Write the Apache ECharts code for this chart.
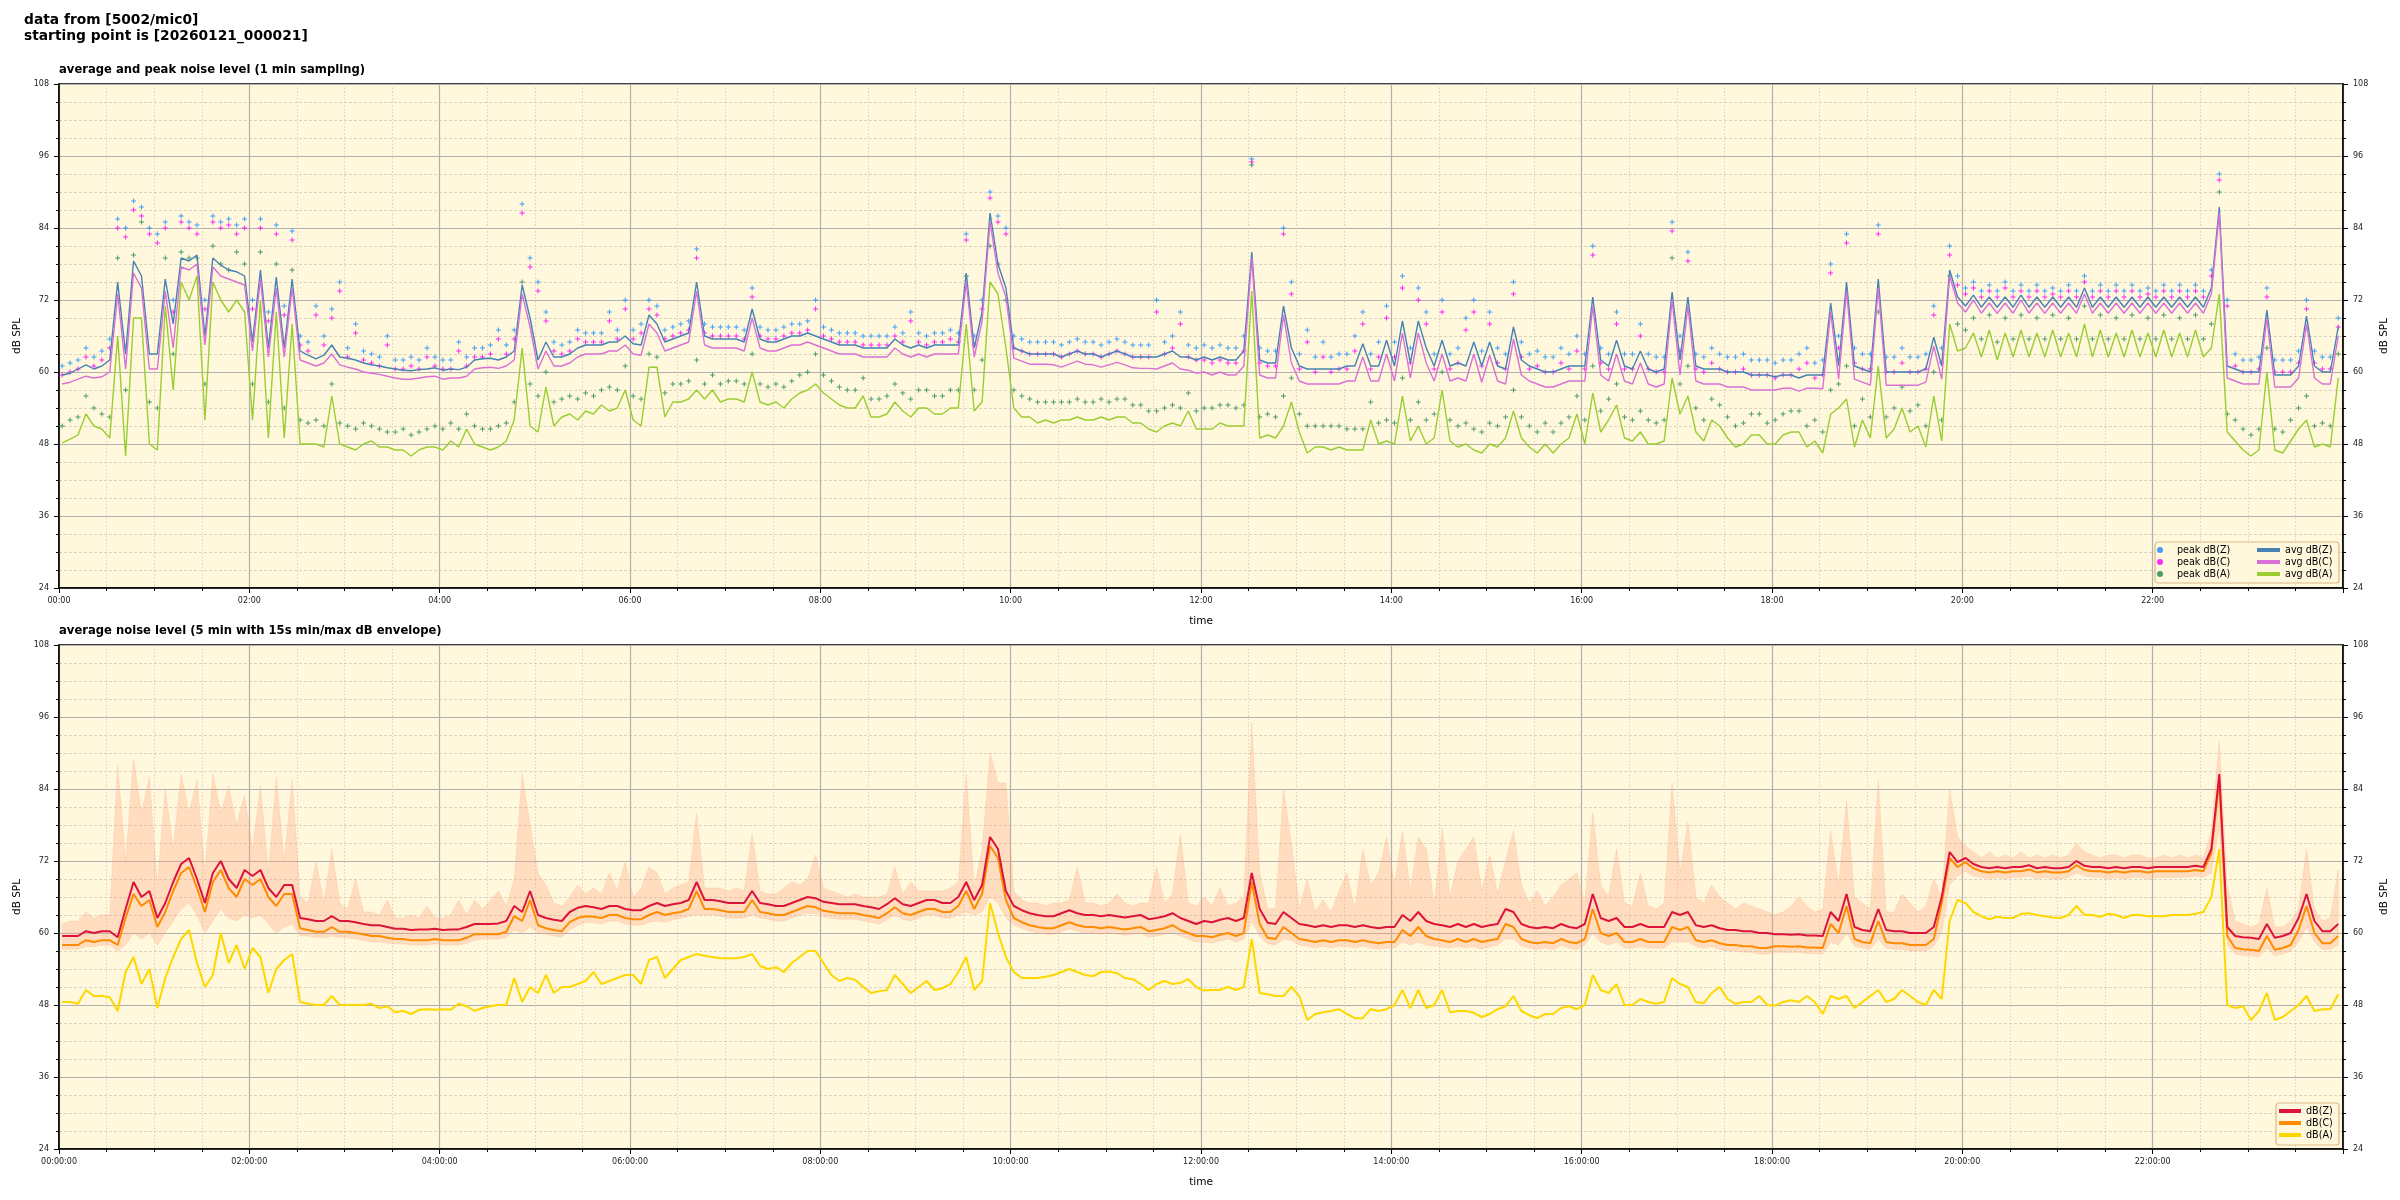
<!DOCTYPE html>
<html><head><meta charset="utf-8">
<script src="https://cdn.jsdelivr.net/npm/echarts/dist/echarts.min.js"></script>
<style>html,body{margin:0;padding:0;background:#fff}#c{width:2400px;height:1200px}</style>
</head><body><div id="c"></div>
<script>
// ---- time base: 5-minute steps (minutes after 00:00) ----
const STEP_MIN = 5;
const START_OFFSET = 2;

// ---- top panel: 1-min averages (read every 5 min) ----
const avgZ = [
[59.5,59.8,60.5,61.2,60.5,61,62,75,63,78.5,76,63],
[63,75.5,68,79,78.5,79.5,66,79,77.8,77,76.7,76],
[65,77,64,75.8,64,75.5,63.5,62.8,62.2,62.8,64.5,62.5],
[62.3,62,61.5,61.2,61,60.7,60.5,60.3,60.2,60.4,60.5,60.7],
[60.3,60.5,60.4,60.8,62,62.2,62.3,62,62.5,63.5,74.5,69],
[62,65,62.5,62.5,63,64,64.5,64.5,64.5,65,65,66],
[64.7,64.5,69.5,68,65,65.5,66,66.5,75,66,65.5,65.5],
[65.5,65.5,65,70.5,65.5,65,65,65.5,66,66,66.5,66],
[65.5,65,64.5,64.5,64.5,64,64,64,64,65.5,64.5,64],
[64.5,64,64.5,64.5,64.5,64.5,76.5,64,70,86.5,78,74],
[64,63.5,63,63,63,63,62.5,63,63.5,63,63,62.5],
[63,63.5,63,62.5,62.5,62.5,62.5,63,63.5,62.5,62.5,62],
[62.5,62,62.5,62,62,63.5,80,62,61.5,61.5,71,64],
[61,60.5,60.5,60.5,60.5,60.5,61,61,64.7,61,61,65.3],
[61,68.5,61.5,68.5,64,61,65.3,61,61.5,61,65,61],
[65,61,60.5,67.5,62,61,60.5,60,60,60.5,61,61],
[61,72.5,62,61,65.3,61,60.5,63.5,60.5,60,60.5,73.3],
[62,72.5,61,60.5,60.5,60.5,60,60,60,59.5,59.5,59.5],
[59.2,59.5,59.5,59,59.5,59.5,59.5,71.5,61,75,61,60.5],
[60,75.5,60,60,60,60,60,60.5,65.8,61,77,72.5],
[71,72.8,70.8,72.5,70.8,72.5,70.8,72.8,70.8,72.5,70.8,72.5],
[70.8,72.5,70.8,74,70.8,72.5,70.8,72.5,70.8,72.5,70.8,72.5],
[70.8,72.5,70.8,72.5,70.8,72.5,70.8,74,87.5,61,60.5,60],
[60,60,70.3,59.5,59.5,59.5,61,69.3,61,60,60,67.5]
].flat();

const avgC = [
[58,58.3,58.8,59.3,59,59.2,60,73,60.5,76.5,74,60.5],
[60.5,73.5,64,77.5,77,78,64.5,77.5,76,75.5,75,74.5],
[63.5,75.5,62.5,74,62.5,74,62,61.5,61,61.5,63,61.2],
[60.8,60.5,60,59.8,59.6,59.3,59,58.8,58.8,59,59.2,59.3],
[58.8,59,59,59.3,60.5,60.7,60.8,60.6,61,62,73,67.5],
[60.5,63.5,61,61,61.5,62.5,63,63,63,63.5,63.5,64.5],
[63,62.8,68,66.5,63.5,64,64.5,65,73.5,64.5,64,64],
[64,64,63.5,69,64,63.5,63.5,64,64.5,64.5,65,64.5],
[64,63.5,63,63,63,62.5,62.5,62.5,62.5,64,63,62.5],
[63,62.5,63,63,63,63,75,62.5,68.5,85,76.5,72.5],
[62.3,61.8,61.3,61.3,61.3,61.2,60.8,61.3,61.8,61.3,61.2,60.8],
[61.2,61.6,61.2,60.7,60.6,60.6,60.5,61,61.5,60.5,60.3,59.8],
[60,59.5,60,59.5,59.5,61,79,59.5,59,59,69.5,61.5],
[58.5,58,58,58,58,58,58.5,58.5,62.5,58.5,58.5,63],
[58.5,66.5,59,66.5,61.5,58.5,63,58.5,59,58.5,63,58.3],
[62.8,58.5,58,65.5,59.5,58.5,58,57.5,57.5,58,58.5,58.5],
[58.5,71,59.5,58.5,63,58.5,58,61.5,58,57.5,58,72],
[59.5,71,58.5,58,58,58,57.5,57.5,57.5,57,57,57],
[57,57.3,57.3,56.8,57.3,57.3,57.2,70,58.8,73.5,58.8,58.3],
[57.8,74,57.8,57.8,57.8,57.8,57.8,58.3,64.3,58.8,76,71.5],
[70,72,69.8,71.5,69.8,71.5,69.8,72,69.8,71.5,69.8,71.5],
[69.8,71.5,69.8,73,69.8,71.5,69.8,71.5,69.8,71.5,69.8,71.5],
[69.8,71.5,69.8,71.5,69.8,71.5,69.8,73,86.5,59,58.5,58],
[58,58,69,57.5,57.5,57.5,59,68,59,58,58,66]
].flat();

const avgA = [
[48.2,48.8,49.5,53,51,50.5,49,66,46,69,69,48],
[47,71,57,75,72,76,52,75,72,70,72,70],
[52,72,49,70,49,68,48,48,48,47.5,56,48],
[47.5,47,48,48.5,47.5,47.5,47,47,46,47,47.5,47.5],
[47,48.5,47.5,50.5,48,47.5,47,47.5,48.5,52,64,51],
[50,57.5,51,52.5,53,52,53.5,53,54.5,53.5,54,57],
[52,51,60.8,60.8,52.5,55,55,55.5,57,55.5,57,55],
[55.5,55.5,55,60,55,54.5,55,54,55.5,56.5,57,58],
[56.5,55.5,54.5,54,54,56,52.5,52.5,53,55,53.5,52.5],
[54,54,53,53,54,54,68,53.5,55,75,73,64],
[54,52.5,52.5,51.5,52,51.5,52,52,52.5,52,52,52.5],
[52,52.5,52.5,51.5,51.5,50.5,50,51,51.5,51,53.5,50.5],
[50.5,50.5,51.5,51,51,51,73.5,49,49.5,49,51,55],
[50,46.5,47.5,47.5,47,47.5,47,47,47,52,48,48.5],
[48,56,48.5,51,48,49,57,48.5,47.5,48,47,46.5],
[48,47.5,49,53.5,49,47.5,46.5,48,46.5,48,49,53],
[48,56.5,50,52,54.5,49,48.5,50,48,48,48.5,59],
[53,56,50,48.5,52,51,49,47.5,48,49.5,49.5,48],
[48,49.5,50,50,47.5,48.5,46.5,53,54,55.5,47.5,52],
[49,61,49,50.5,54,50,51,47.5,56,48.5,68,63.5],
[64,66.5,62.5,67,62,66.5,62.5,67,62.5,66.5,62.5,67],
[62.5,66.5,62.5,68,62.5,67,62.5,66.5,62.5,67,62.5,66.5],
[62.5,67,62.5,66.5,62.5,67,62.5,64,73,50,48.5,47],
[46,47,60,47,46.5,48.5,50.5,52,47.5,48,47.5,59]
].flat();

const peakZ = [
[61,61.5,62,64,62.5,63.5,65.5,85.5,84,88.5,87.5,84],
[83,85,72,86,85,84.5,72,86,85,85.5,84.5,85.5],
[72,85.5,70,84.5,71,83.5,66,65,71,66,70.5,75],
[64,68,63.5,63,62.5,66,62,62,62.5,62,64,62.5],
[62,62,65,62.5,64,64,64.5,67,64.5,67,88,79],
[75,70,65,64.5,65,67,66.5,66.5,66.5,70,67,72],
[67,68,72,71,67,67.5,68,68.5,80.5,68,67.5,67.5],
[67.5,67.5,67,74,67.5,67,67,67.5,68,68,68.5,72],
[67.5,67,66.5,66.5,66.5,66,66,66,66,67.5,66.5,70],
[66.5,66,66.5,66.5,67,66.5,83,66,72,90,86,84],
[66,65.5,65,65,65,65,64.5,65,65.5,65,65,64.5],
[65,65.5,65,64.5,64.5,64.5,72,65,66,70,64.5,64],
[64.5,64,64.5,64,64,66,95.5,64,63.5,63.5,84,75],
[63,67,62.5,65,62.5,63,63,66,70,63,65,71],
[65,76,64,74,70,63,72,63,64,69,72,63.5],
[70,64,63,75,65,63,63.5,62.5,62.5,64,63,66],
[63,81,64,63,70,63,63,68,63,62.5,62.5,85],
[66,80,63,62.5,64,63,62.5,62.5,63,62,62,62],
[61.5,62,62,63,64,61.5,62,78,66,83,64,63],
[63,84.5,62.5,62.5,64,62.5,62.5,63,71,64,81,76],
[74,75,73.5,74.5,73.5,75,73.5,74.5,73.5,74.5,73.5,74],
[73.5,74.5,73.5,76,73.5,74.5,73.5,74.5,73.5,74.5,73.5,74],
[73.5,74.5,73.5,74.5,73.5,74.5,73.5,77,93,72,63,62],
[62,62.5,74,62,62,62,63.5,72,63.5,62.5,62.5,69]
].flat();

const peakC = [
[59.5,60,60.5,62.5,61,62,64,84,82.5,87,86,83],
[81.5,84,70,85,84,83,70.5,85,84,84.5,83,84],
[70.5,84,68.5,83,69.5,82,64.5,63.5,69.5,64.5,69,73.5],
[62.5,66.5,62,61.5,61,64.5,60.5,60.5,61,60.5,62.5,61],
[60.5,60.5,63.5,61,62.5,62.5,63,65.5,63,65.5,86.5,77.5],
[73.5,68.5,63.5,63,63.5,65.5,65,65,65,68.5,65.5,70.5],
[65.5,66.5,70.5,69.5,65.5,66,66.5,67,79,66.5,66,66],
[66,66,65.5,72.5,66,65.5,65.5,66,66.5,66.5,67,70.5],
[66,65.5,65,65,65,64.5,64.5,64.5,64.5,66,65,68.5],
[65,64.5,65,65,65.5,65,82,64.5,70.5,89,85,83],
[64,63.5,63,63,63,63,62.5,63,63.5,63,63,62.5],
[63,63.5,63,62.5,62.5,62.5,70,63,64,68,62.5,62],
[62,61.5,62,61.5,61.5,63.5,95,61.5,61,61,83,73],
[60.5,65,60,62.5,60,60.5,60.5,63.5,68,60.5,62.5,69],
[62.5,74,61.5,72,68,60.5,70,60.5,61.5,67,70,61],
[68,61.5,60.5,73,62.5,60.5,61,60,60,61.5,60.5,63.5],
[60.5,79.5,61.5,60.5,68,60.5,60.5,66,60.5,60,60,83.5],
[63.5,78.5,60.5,60,61.5,60.5,60,60,60.5,59.5,59.5,59.5],
[59,59.5,59.5,60.5,61.5,59,59.5,76.5,64,81.5,61.5,60.5],
[60.5,83,60,60,61.5,60,60,60.5,69.5,61.5,79.5,74.5],
[73,74,72.5,73.5,72.5,74,72.5,73.5,72.5,73.5,72.5,73],
[72.5,73.5,72.5,75,72.5,73.5,72.5,73.5,72.5,73.5,72.5,73],
[72.5,73.5,72.5,73.5,72.5,73.5,72.5,76,92,71,61,60],
[60,60.5,72.5,60,60,60,61.5,70.5,61.5,60.5,60.5,67.5]
].flat();

const peakA = [
[51,52,52.5,56,54,53,52.5,79,57,79.5,85,55],
[54,79,63,80,79,79,58,81,78,77,80,78],
[58,80,55,78,54,77,52,51.5,52,51,58,51.5],
[51,50.5,51.5,51,50.5,50,50,50.5,49.5,50,50.5,51],
[50.5,51.5,50.5,53,51,50.5,50.5,51,51.5,55,75,58],
[56,60,55,55.5,56,55.5,56.5,56,57,57.5,57,61],
[56,55.5,63,62.5,56.5,58,58,58.5,62,58,59.5,58],
[58.5,58.5,58,63,58,57.5,58,57.5,58.5,59.5,60,63],
[59.5,58.5,57.5,57,57,59,55.5,55.5,56,58,56.5,55.5],
[57,57,56,56,57,57,76,57,62,81,78,72],
[57,56,55.5,55,55,55,55,55,55.5,55,55,55.5],
[55,55.5,55.5,54.5,54.5,53.5,53.5,54,54.5,54,56.5,53.5],
[54,54,54.5,54.5,54,54.5,94.5,52.5,53,52.5,56,59],
[53,51,51,51,51,51,50.5,50.5,50.5,55,51.5,52],
[51.5,59,52,55,52,53,60,52,51,51.5,50.5,50],
[51.5,51,52.5,57,52.5,51,50,51.5,50,51.5,52.5,56],
[52,61,53.5,55.5,58,52.5,52,53.5,52,51.5,52,79],
[58,61,54,52,55.5,54.5,52.5,51,51.5,53,53,51.5],
[52,53,53.5,53.5,51,52,50,57,58,61,51,55.5],
[52.5,70,52.5,54,57.5,53.5,54.5,51,60,52,76,68],
[67,69,65.5,69.5,65,69,65.5,69.5,65.5,69,65.5,69.5],
[65.5,69,65.5,71,65.5,69.5,65.5,69,65.5,69.5,65.5,69],
[65.5,69.5,65.5,69,65.5,69.5,65.5,68,90,53,52,50.5],
[49.5,50.5,64,50.5,50,52,54,56,51,51.5,51,63]
].flat();

// ---- bottom panel: 5-min averages and 15 s min/max envelope ----
const dbZ = [
[59.5,59.5,59.5,60.3,60,60.3,60.3,59.3,64,68.5,66,67],
[62.5,65,68.5,71.5,72.5,69,65,70,72,69,67.5,70.5],
[69.5,70.5,67.5,66,68,68,62.5,62.3,62,62,62.8,62],
[62,61.8,61.5,61.3,61.3,61,60.7,60.7,60.5,60.6,60.6,60.7],
[60.5,60.6,60.6,61,61.5,61.5,61.5,61.6,62,64.5,63.5,67],
[63,62.5,62.2,62,63.5,64.2,64.5,64.3,64,64.5,64.5,64],
[63.8,63.8,64.5,65,64.5,64.8,65,65.5,68.5,65.5,65.5,65.3],
[65,65,65,67,65,64.8,64.5,64.5,65,65.5,66,65.8],
[65.2,65,64.8,64.8,64.8,64.5,64.3,64,64.8,65.8,64.8,64.5],
[65,65.5,65.5,65,65,66,68.5,65.5,68,76,74,67],
[64.5,63.8,63.3,63,62.8,62.8,63.3,63.8,63.3,63,63,62.8],
[63,62.8,62.6,62.8,63,62.3,62.5,62.8,63.3,62.5,62,61.5],
[62,61.8,62.2,62.5,62,62.5,70,64,61.7,61.5,63.5,62.5],
[61.5,61.3,61,61.3,61,61.3,61.3,61,61.3,61,60.8,61],
[61,63,62,63.5,62,61.5,61.3,61,61.5,61,61.5,61],
[61.3,61.5,64,63.5,61.5,61,60.8,61,60.8,61.5,61,60.8],
[61.5,66.5,62.5,62,62.5,61,61,61.5,61,61,61,63.5],
[63,63.5,61.3,61,61.3,60.8,60.5,60.5,60.3,60.3,60,60],
[59.8,59.8,59.7,59.8,59.6,59.6,59.5,63.5,62,66.5,61,60.5],
[60.3,64,60.5,60.3,60.3,60,60,60,61,66,73.5,71.8],
[72.5,71.5,71,70.8,71,70.8,71,71,71.3,70.8,71,70.8],
[70.8,71,72,71.2,71,71,70.8,71,70.8,71,71,70.8],
[71,71,71,71,71,71.2,71,74,86.5,61,59.5,59.3],
[59.2,59,61.5,59.2,59.5,60,62.5,66.5,62,60.3,60.3,61.5]
].flat();

const dbC = [
[58,58,58,58.8,58.5,58.8,58.8,58,62.5,66.5,64.5,65.5],
[61,63.5,67,70,71,67.5,63.5,68.5,70.5,67.5,66,69],
[68,69,66,64.5,66.5,66.5,60.8,60.5,60.2,60.2,61,60.2],
[60.2,60,59.8,59.5,59.5,59.2,59,59,58.8,58.8,58.8,59],
[58.8,58.8,58.8,59.2,59.8,59.8,59.8,59.8,60.2,62.8,62,65.5],
[61.3,60.8,60.5,60.3,61.8,62.5,62.8,62.7,62.5,63,63,62.5],
[62.3,62.3,63,63.5,63,63.3,63.5,64,67,64,64,63.8],
[63.5,63.5,63.5,65.5,63.5,63.3,63,63,63.5,64,64.5,64.3],
[63.7,63.5,63.3,63.3,63.3,63,62.8,62.5,63.3,64.3,63.3,63],
[63.5,64,64,63.5,63.5,64.5,67,64,66.5,74.5,72.5,65.5],
[62.5,61.8,61.3,61,60.8,60.8,61.3,61.8,61.3,61,61,60.8],
[61,60.8,60.6,60.8,61,60.3,60.5,60.8,61.3,60.5,60,59.5],
[59.5,59.3,59.7,60,59.5,60,68.5,61.5,59.2,59,61,60],
[59,58.8,58.5,58.8,58.5,58.8,58.8,58.5,58.8,58.5,58.3,58.5],
[58.5,60.5,59.5,61,59.5,59,58.8,58.5,59,58.5,59,58.5],
[58.8,59,61.5,61,59,58.5,58.3,58.5,58.3,59,58.5,58.3],
[59,64,60,59.5,60,58.5,58.5,59,58.5,58.5,58.5,61],
[60.5,61,58.8,58.5,58.8,58.3,58,58,57.8,57.8,57.5,57.5],
[57.8,57.8,57.7,57.8,57.6,57.6,57.5,61.5,60,64.5,59,58.5],
[58.3,62,58.5,58.3,58.3,58,58,58,59,65,72.5,71],
[71.8,70.8,70.3,70.1,70.3,70.1,70.3,70.3,70.6,70.1,70.3,70.1],
[70.1,70.3,71.3,70.5,70.3,70.3,70.1,70.3,70.1,70.3,70.3,70.1],
[70.3,70.3,70.3,70.3,70.3,70.5,70.3,73.3,85.5,59.5,57.5,57.3],
[57.2,57,59.5,57.2,57.5,58,60.5,64.5,60,58.3,58.3,59.5]
].flat();

const dbA = [
[48.5,48.5,48.2,50.5,49.5,49.5,49.3,47,53.5,56,51.5,54],
[47.5,52.5,56,59,60.5,55,51,53,60,55,58,54],
[57.5,56,50,54,55.5,56.5,48.5,48.2,48,48,49.5,48],
[48,48,48,48.2,47.5,47.8,46.8,47,46.5,47.2,47.3,47.2],
[47.3,47.2,48.2,47.8,47,47.5,47.8,48,48,52.5,48.5,51],
[50,53,50,51,51,51.5,52,53.5,51.5,52,52.5,53],
[53,51.5,55.5,56,52.5,54,55.5,56,56.5,56.2,56,55.8],
[55.8,55.8,56,56.5,54.5,54,54.3,53.5,55,56,57,57],
[55,53,52,52.5,52.2,51,50,50.3,50.5,53,51.5,50],
[51,52,50.5,50.8,51.5,53.5,56,50.5,52,65,60,56],
[53.5,52.5,52.5,52.5,52.7,53,53.5,54,53.5,53,52.8,53.5],
[53.6,53.3,52.5,52.3,51.5,50.5,51.5,52,51.5,51.7,52.3,51],
[50.4,50.5,50.5,51,50.5,51,59,50,49.8,49.5,49.5,51],
[49.5,45.5,46.5,46.8,47,47.3,46.5,45.8,45.8,47.3,47,47.3],
[48,50.5,47.5,50.5,47.5,48,50.5,46.8,47,47,46.7,46],
[46.5,47.3,47.8,49.5,47,46.3,45.8,46.5,46.5,47.5,47.8,47.3],
[48,53,50.5,50,51.5,48,48,49,48.5,48.2,48.5,52.5],
[51.5,51,48.5,48.3,50,51,49,48.2,48.5,48.5,49.5,48],
[47.9,48.5,48.8,48.5,49.5,48.5,46.5,49.5,49,49.5,47.5,48.5],
[49.5,50.5,48.5,49,50.5,49.5,48.5,48,50.5,49,62,65.5],
[65,63.5,62.8,62.3,62.7,62.5,62.5,63.2,63.3,63,62.8,62.6],
[62.5,63,64.5,63,63,62.7,63.2,63,62.5,63,63,62.8],
[62.8,62.8,63,63,63,63.2,63.5,66,74,48,47.5,47.8],
[45.5,47,50,45.5,46,47,48,49.5,47,47.3,47.3,49.8]
].flat();

const envHi = [
[61.5,62,62,63.5,62.5,63,63,88,72,89,80,86],
[68,84,74,86.5,80,85.5,70,86.5,80,84.5,78,83],
[74,84.5,70,86,72,85.5,66,65,72,65,74,65],
[64,69,63.5,63.5,63,65.5,62.5,62.5,63,62.5,64.5,62.5],
[62.5,63,65.5,63,65.5,64,65.5,67,64.5,69,86.5,78],
[70,68,65,64.5,66,68,66.5,67.5,66.5,70,67,72],
[66,67.5,71,70,66.5,67.5,68,68.5,80,67.5,67.5,67.5],
[67,67.5,67,76.5,67,66.5,66.5,67.5,68.5,68,69,73],
[67.5,67,66.5,66,66.5,66,66,66,66.5,71,66.5,68.5],
[67,67,67,67,67.5,68.5,86.5,67.5,74,90,85,85],
[67,65.5,65,65,64.5,65,65,65.5,71,65,65,64.5],
[65,66.5,65,64.5,65,65,71,65,66.5,76.5,65,64.5],
[66,64.5,67.5,64.5,65,66,95,70,64,64,84,75],
[64,69,63.5,65.5,63.5,67,70,64,74,68,70,76],
[68,77,67,76,74,65,77.5,66,72,74,76,67],
[73,66.5,72,77,68,65,67,64.5,66,68,69,70],
[65,80,68,66,74,65,64.5,70,64.5,64,65,85],
[70,78.5,66,65,68,66,65,64,65,64.5,64,63.5],
[63,63.5,64.5,66,64.5,63.5,64,77,68,82,66,65],
[64,85.5,63.5,63.5,66.5,65,63.5,64.5,69,66,84,76],
[74.5,73.5,72.5,73.5,72.5,73,72.5,73.5,72.5,73,72.5,73],
[72.5,73,75,73.5,73,72.5,73,73,72.5,73,73,72.5],
[72.5,73,72.5,73,72.5,73,72.5,77,92,68,62,61.5],
[61,61.5,67.5,61,61,62,64,74,64,62,62.5,70.5]
].flat();

const envLo = [
[57.3,57.3,57.3,57.8,57.7,58,58,57,58,60,59,60],
[58,60,62,64,65,63,60,62,64,62.5,62,63],
[62.5,63,61.5,60,61,61.5,59.5,59.5,59.3,59.2,59.5,59.3],
[59.2,59,58.8,58.5,58.5,58.3,58.2,58.2,58,58,58,58.2],
[58,58,58,58.3,58.8,59,59,59,59.3,60.5,60,61],
[60,59.8,59.5,59.3,60.5,61.3,61.8,61.7,61.5,62,62,61.5],
[61.3,61.3,61.8,62,61.8,62.2,62.5,62.8,63,63,63,62.8],
[62.5,62.5,62.5,63,62.5,62.3,62,62,62.5,63,63.3,63.2],
[62.7,62.5,62.3,62.3,62.3,62,61.8,61.5,62.2,63,62.3,62],
[62.5,63,63,62.5,62.5,63,63.5,63,63.5,66,65,62.5],
[61.3,60.8,60.3,60,59.8,59.8,60.2,60.7,60.3,60,60,59.8],
[60,59.8,59.6,59.8,60,59.3,59.5,59.8,60.2,59.5,59,58.5],
[58.5,58.3,58.7,59,58.5,59,62,59.5,58.2,58,59,58.8],
[58,57.8,57.5,57.8,57.5,57.8,57.8,57.5,57.8,57.5,57.3,57.5],
[57.5,58.5,58,58.5,58,57.8,57.7,57.5,57.8,57.5,57.8,57.3],
[57.7,58,59,59,57.8,57.5,57.2,57.5,57.2,58,57.5,57.2],
[58,60,58.5,58,58.5,57.5,57.5,57.8,57.5,57.5,57.5,58.5],
[58.5,58.5,57.8,57.5,57.8,57.3,57,57,56.8,56.8,56.5,56.5],
[56.8,56.8,56.7,56.8,56.6,56.6,56.5,58.5,58,60,57.8,57.5],
[57.3,59,57.5,57.3,57.3,57,57,57,57.8,60,68,69.5],
[70.3,69.5,69.3,69,69.3,69,69.3,69.3,69.5,69,69.3,69],
[69,69.3,70,69.5,69.3,69.3,69,69.3,69,69.3,69.3,69],
[69.3,69.3,69.3,69.3,69.3,69.5,69.3,70,78,58,56.5,56.3],
[56.2,56,57.5,56.2,56.5,57,58.5,61,58.5,57.3,57.3,58]
].flat();

// ---- axis ticks ----
const Y_MIN = 24, Y_MAX = 108, Y_STEP = 12;
const X_MIN = 0, X_MAX = 1440, X_STEP = 120;

const FONT = 'DejaVu Sans';
const tOf = i => i * STEP_MIN + START_OFFSET;
const pts = arr => arr.map((v, i) => [tOf(i), v]);
const pad = n => (n < 10 ? '0' : '') + n;
const fmtHM = v => (v >= X_MAX ? '' : pad(Math.floor(v / 60)) + ':' + pad(v % 60));
const fmtHMS = v => (v >= X_MAX ? '' : pad(Math.floor(v / 60)) + ':' + pad(v % 60) + ':00');
const plusSym = 'path://M0,1.6H4V2.4H0Z M1.6,0H2.4V4H1.6Z';

function xAxis(gi, fmt) {
  return {
    type: 'value', gridIndex: gi, min: X_MIN, max: X_MAX, interval: X_STEP,
    name: 'time', nameLocation: 'middle', nameGap: 28,
    nameTextStyle: { fontFamily: FONT, fontSize: 10.5, color: '#000' },
    axisLine: { show: true, lineStyle: { color: '#000', width: 1.5 } },
    axisTick: { show: true, length: 5, lineStyle: { color: '#000' } },
    minorTick: { show: true, splitNumber: 4, length: 3, lineStyle: { color: '#000' } },
    axisLabel: { formatter: fmt, fontFamily: FONT, fontSize: 8, color: '#222', margin: 9, showMaxLabel: false },
    splitLine: { show: true, lineStyle: { color: '#b0b0b0', width: 1.2 } },
    minorSplitLine: { show: true, lineStyle: { color: '#cfcabb', width: 0.8, type: [1.5, 2] } }
  };
}
function yAxis(gi, pos) {
  const left = pos === 'left';
  return {
    type: 'value', gridIndex: gi, position: pos, min: Y_MIN, max: Y_MAX, interval: Y_STEP,
    name: 'dB SPL', nameLocation: 'middle', nameRotate: 90, nameGap: left ? 36 : 32,
    nameTextStyle: { fontFamily: FONT, fontSize: 10.5, color: '#000' },
    axisLine: { show: true, lineStyle: { color: '#000', width: 1.5 } },
    axisTick: { show: true, length: 5, lineStyle: { color: '#000' } },
    minorTick: { show: true, splitNumber: 4, length: 3, lineStyle: { color: '#000' } },
    axisLabel: { fontFamily: FONT, fontSize: 8, color: '#222', margin: 10 },
    splitLine: { show: left, lineStyle: { color: '#b0b0b0', width: 1.2 } },
    minorSplitLine: { show: left, lineStyle: { color: '#cfc9b8', width: 0.8, type: [3, 2] } }
  };
}
function lineS(name, data, color, width, xi, z) {
  return { name, type: 'line', xAxisIndex: xi, yAxisIndex: xi * 2, data: pts(data),
    showSymbol: false, symbol: 'none', z: z || 3, animation: false,
    lineStyle: { color, width }, itemStyle: { color } };
}
function scatS(name, data, color) {
  return { name, type: 'scatter', xAxisIndex: 0, yAxisIndex: 0, data: pts(data),
    symbol: plusSym, symbolSize: 5, z: 2, animation: false,
    itemStyle: { color, opacity: 0.85 } };
}

// envelope band: polygon through envHi forward and envLo backward, via axis coords
const envelopeSeries = {
  name: 'envelope', type: 'custom', xAxisIndex: 1, yAxisIndex: 2, z: 2, silent: true,
  data: [[X_MIN, Y_MIN]], clip: true,
  renderItem: function (params, api) {
    const up = envHi.map((v, i) => api.coord([tOf(i), v]));
    const dn = envLo.map((v, i) => api.coord([tOf(i), v])).reverse();
    return { type: 'polygon', shape: { points: up.concat(dn) },
      style: { fill: 'rgba(255,160,122,0.3)', stroke: 'rgba(250,175,145,0.45)', lineWidth: 0.6 } };
  }
};

const legendText = { fontFamily: FONT, fontSize: 9.6, color: '#000', lineHeight: 12 };

const option = {
  backgroundColor: '#ffffff',
  animation: false,
  title: [
    { text: 'data from [5002/mic0]\nstarting point is [20260121_000021]', left: 24, top: 12, padding: 0,
      textStyle: { fontFamily: FONT, fontSize: 13.8, fontWeight: 'bold', color: '#000', lineHeight: 16.5 } },
    { text: 'average and peak noise level (1 min sampling)', left: 59, top: 64, padding: 0,
      textStyle: { fontFamily: FONT, fontSize: 11.6, fontWeight: 'bold', color: '#000' } },
    { text: 'average noise level (5 min with 15s min/max dB envelope)', left: 59, top: 625, padding: 0,
      textStyle: { fontFamily: FONT, fontSize: 11.6, fontWeight: 'bold', color: '#000' } }
  ],
  grid: [
    { left: 59, top: 84, width: 2284, height: 504, show: true, backgroundColor: '#fff8dc', borderColor: '#000', borderWidth: 1.5 },
    { left: 59, top: 645, width: 2284, height: 504, show: true, backgroundColor: '#fff8dc', borderColor: '#000', borderWidth: 1.5 }
  ],
  xAxis: [xAxis(0, fmtHM), xAxis(1, fmtHMS)],
  yAxis: [yAxis(0, 'left'), yAxis(0, 'right'), yAxis(1, 'left'), yAxis(1, 'right')],
  legend: [
    { data: [{ name: 'peak dB(Z)', icon: 'circle' }, { name: 'peak dB(C)', icon: 'circle' }, { name: 'peak dB(A)', icon: 'circle' }],
      orient: 'vertical', left: 2157, top: 544, padding: 0, itemGap: 0, itemWidth: 24, itemHeight: 6,
      selectedMode: false, z: 10, textStyle: legendText },
    { data: [{ name: 'avg dB(Z)', icon: 'rect' }, { name: 'avg dB(C)', icon: 'rect' }, { name: 'avg dB(A)', icon: 'rect' }],
      orient: 'vertical', left: 2257, top: 544, padding: 0, itemGap: 0, itemWidth: 23, itemHeight: 4,
      selectedMode: false, z: 10, textStyle: legendText },
    { data: [{ name: 'dB(Z)', icon: 'rect' }, { name: 'dB(C)', icon: 'rect' }, { name: 'dB(A)', icon: 'rect' }],
      orient: 'vertical', left: 2279, top: 1105, padding: 0, itemGap: 0, itemWidth: 22, itemHeight: 4,
      selectedMode: false, z: 10, textStyle: legendText }
  ],
  graphic: [
    { type: 'rect', x: 2155, y: 542, z: 8, shape: { width: 184, height: 41, r: 3 },
      style: { fill: 'rgba(255,248,220,0.85)', stroke: '#DEB887', lineWidth: 1.2 } },
    { type: 'rect', x: 2276, y: 1103, z: 8, shape: { width: 63, height: 42, r: 3 },
      style: { fill: 'rgba(255,248,220,0.85)', stroke: '#DEB887', lineWidth: 1.2 } }
  ],
  series: [
    scatS('peak dB(Z)', peakZ, '#1E90FF'),
    scatS('peak dB(C)', peakC, '#FF00FF'),
    scatS('peak dB(A)', peakA, '#2E8B57'),
    lineS('avg dB(Z)', avgZ, '#4682B4', 1.4, 0, 3),
    lineS('avg dB(C)', avgC, '#DA70D6', 1.4, 0, 4),
    lineS('avg dB(A)', avgA, '#9ACD32', 1.4, 0, 5),
    envelopeSeries,
    lineS('dB(Z)', dbZ, '#DC143C', 2, 1, 5),
    lineS('dB(C)', dbC, '#FF8C00', 2, 1, 4),
    lineS('dB(A)', dbA, '#FFD700', 2, 1, 3)
  ]
};

const chart = echarts.init(document.getElementById('c'), null, { renderer: 'canvas' });
chart.setOption(option);
</script>
</body></html>
